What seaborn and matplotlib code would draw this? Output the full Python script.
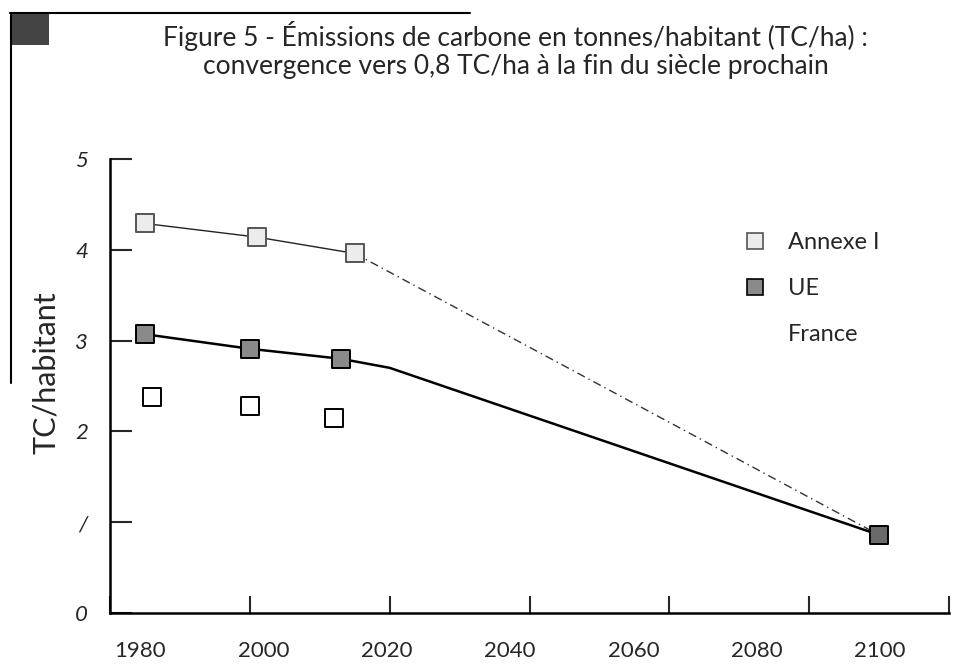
# Figure 5 - emissions de carbone par habitant (scan rebuild)
import numpy as np
import pandas as pd
import matplotlib
matplotlib.use("Agg")
import matplotlib.pyplot as plt
from matplotlib.lines import Line2D
from matplotlib.patches import Rectangle
import seaborn as sns

# ------- data -------
annexe_years = [1985, 2001, 2015]
annexe_vals  = [4.29, 4.14, 3.96]
ue_years     = [1985, 2000, 2013]
ue_vals      = [3.07, 2.91, 2.80]
fr_years     = [1986, 2000, 2012]
fr_vals      = [2.38, 2.28, 2.15]
# projection part of the curves
ue_bend_year = 2020
ue_bend_val  = 2.70
end_year     = 2090
end_val      = 0.86

x_ticks = [1980, 2000, 2020, 2040, 2060, 2080, 2100]
y_ticks = [0, 1, 2, 3, 4, 5]
y_tick_labels = ["0", "/", "2", "3", "4", "5"]

title = ("Figure 5 - Émissions de carbone en tonnes/habitant (TC/ha) :\n"
         "convergence vers 0,8 TC/ha à la fin du siècle prochain")

# ------- style -------
sns.set_style("white")
plt.rcParams["font.family"] = ["Lato", "DejaVu Sans"]

fig = plt.figure(figsize=(9.6, 6.68), dpi=100)
ax = fig.add_axes([110/960, 1 - 613/668, 839/960, (613 - 159)/668])

annexe_df = pd.DataFrame({"year": annexe_years, "val": annexe_vals})
ue_df     = pd.DataFrame({"year": ue_years + [ue_bend_year, end_year],
                          "val": ue_vals + [ue_bend_val, end_val]})
fr_df     = pd.DataFrame({"year": fr_years, "val": fr_vals})
annexe_tail = pd.DataFrame({"year": [annexe_years[-1], end_year],
                            "val": [annexe_vals[-1], end_val]})

# lines
sns.lineplot(data=annexe_df, x="year", y="val", ax=ax, color="#222222",
             lw=1.0, sort=False)
sns.lineplot(data=annexe_tail, x="year", y="val", ax=ax, color="#333333",
             lw=1.0, linestyle=(0, (6, 3, 1, 3)), sort=False)
sns.lineplot(data=ue_df, x="year", y="val", ax=ax, color="black",
             lw=1.8, sort=False)

# markers
sq = dict(marker="s", s=150, linewidth=1.4, zorder=5)
sns.scatterplot(data=annexe_df, x="year", y="val", ax=ax,
                color="#ececec", edgecolor="#555555", **sq)
sns.scatterplot(data=ue_df.iloc[:3], x="year", y="val", ax=ax,
                color="#8a8a8a", edgecolor="black", **sq)
sns.scatterplot(data=ue_df.iloc[[-1]], x="year", y="val", ax=ax,
                color="#6a6a6a", edgecolor="black", **sq)
sns.scatterplot(data=fr_df, x="year", y="val", ax=ax,
                color="white", edgecolor="black", **sq)

# ------- axes -------
ax.set_xlim(1980, 2100)
ax.set_ylim(0, 5)
ax.set_xticks(x_ticks)
ax.set_xticklabels([])
ax.set_yticks(y_ticks)
ax.set_yticklabels(y_tick_labels, fontsize=16, style="italic")
ax.tick_params(axis="x", bottom=True, direction="in", length=12, width=1.5)
ax.tick_params(axis="y", left=True, direction="in", length=16, width=1.5,
               pad=16)
sns.despine(ax=ax)
for sp in ["left", "bottom"]:
    ax.spines[sp].set_linewidth(1.8)
    ax.spines[sp].set_color("black")
ax.set_xlabel("")
ax.set_ylabel("TC/habitant", fontsize=22)
ax.yaxis.set_label_coords(-0.06, 0.53)

# the printed year labels sit on a slightly squeezed scale in the scan
px_per_year = 839 / 120
lab_per_year = 740 / 120
lab_shift = 30


def to_lab(x):
    return 1980 + ((np.asarray(x) - 1980) * px_per_year - lab_shift) / lab_per_year


def from_lab(y):
    return 1980 + (lab_shift + (np.asarray(y) - 1980) * lab_per_year) / px_per_year


sec = ax.secondary_xaxis("bottom", functions=(to_lab, from_lab))
sec.set_xticks(x_ticks)
sec.set_xticklabels([str(t) for t in x_ticks], fontsize=16)
sec.tick_params(length=0, pad=20)
sec.spines["bottom"].set_visible(False)

# legend: France has no symbol in the original
handles = [
    Line2D([], [], marker="s", ls="none", ms=12, mfc="#ececec",
           mec="#555555", mew=1.2),
    Line2D([], [], marker="s", ls="none", ms=12, mfc="#8a8a8a",
           mec="black", mew=1.2),
    Line2D([], [], ls="none"),
]
ax.legend(handles, ["Annexe I", "UE", "France"], loc="upper left",
          bbox_to_anchor=(0.715, 0.885), frameon=False, fontsize=17,
          handletextpad=0.4, labelspacing=1.05)

# ------- title and frame bits -------
fig.text(0.537, 1 - 50/668, title, ha="center", va="center",
         fontsize=19, linespacing=1.15)
fig.add_artist(Line2D([10/960, 470/960], [1 - 13/668, 1 - 13/668],
                      color="black", lw=1.5, transform=fig.transFigure))
fig.add_artist(Line2D([11/960, 11/960], [1 - 13/668, 1 - 383/668],
                      color="black", lw=1.5, transform=fig.transFigure))
fig.add_artist(Rectangle((11/960, 1 - 45/668), 38/960, 32/668,
                         facecolor="#444444", edgecolor="none",
                         transform=fig.transFigure))

fig.savefig("out.png", dpi=100)
